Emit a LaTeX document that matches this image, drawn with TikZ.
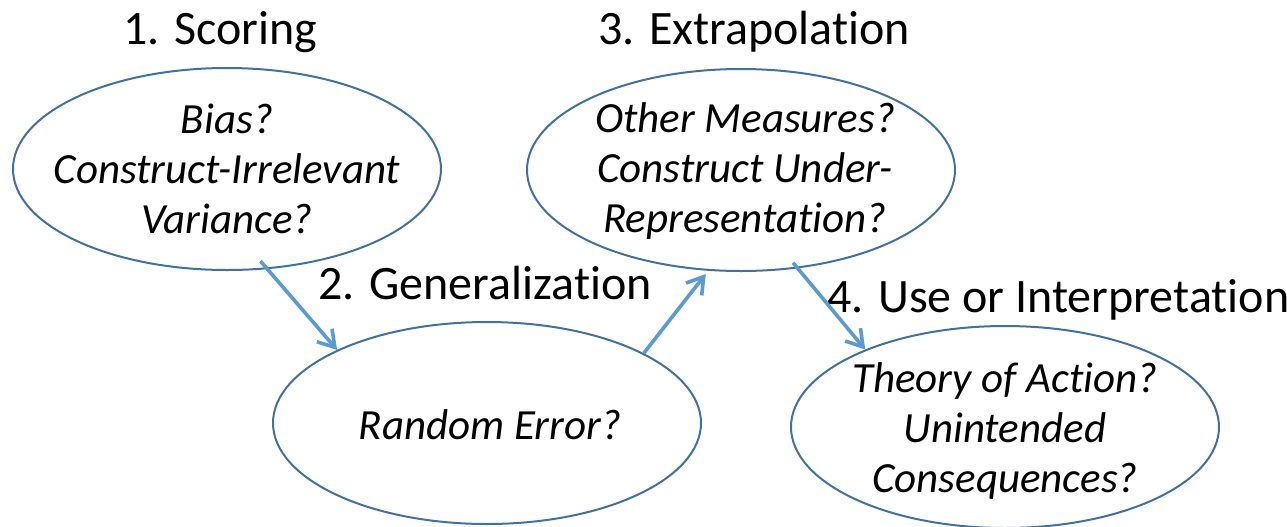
\documentclass[tikz,border=0pt]{standalone}
\usepackage{fontspec}
\setmainfont{Carlito}[Ligatures=NoCommon]
\usepackage{xcolor}
\usepackage{tikz}
\usetikzlibrary{arrows.meta,shapes.geometric}
\definecolor{ovalline}{HTML}{41719C}
\definecolor{arrowblue}{HTML}{5B9BD5}

\begin{document}
\begin{tikzpicture}[x=0.5pt,y=-0.5pt,
 oval/.style={draw=ovalline,line width=1pt,ellipse,inner sep=0pt,minimum width=214pt,minimum height=101pt},
 qtext/.style={align=center,inner sep=0pt,font=\fontsize{21.5}{25}\selectfont\itshape},
 phase/.style={anchor=base west,inner sep=0pt,font=\fontsize{24}{29}\selectfont},
 arr/.style={-{Straight Barb[length=8pt,width=10pt]},line width=1.8pt,draw=arrowblue}]
\useasboundingbox (0,0) rectangle (1287,526);
\node[oval] (score) at (227,169) {};
\node[oval] (gen) at (487,423) {};
\node[oval] (extra) at (741,170) {};
\node[oval] (use) at (1005,427) {};
\node[qtext] (scoretxt) at (227,169) {Bias?\\Construct-Irrelevant\\Variance?};
\node[qtext] (gentxt) at (490,425) {Random Error?};
\node[qtext] (extratxt) at (745,171) {Other Measures?\\Construct Under-\\Representation?};
\node[qtext] (usetxt) at (1005,431) {Theory of Action?\\Unintended\\Consequences?};
\node[phase] (scorehead) at (123,44) {1. Scoring};
\node[phase] (genhead) at (318,299) {2. Generalization};
\node[phase] (extrahead) at (598,44) {3. Extrapolation};
\node[phase] (usehead) at (827,312) {4. Use or Interpretation};
\draw[arr,shorten <=-5.4pt] (score.-68.5) -- (gen.154.4);
\draw[arr,shorten >=2pt] (gen.24.9) -- (extra.-108.4);
\draw[arr,shorten <=-3.7pt] (extra.-60.7) -- (use.151.2);
\end{tikzpicture}
\end{document}
